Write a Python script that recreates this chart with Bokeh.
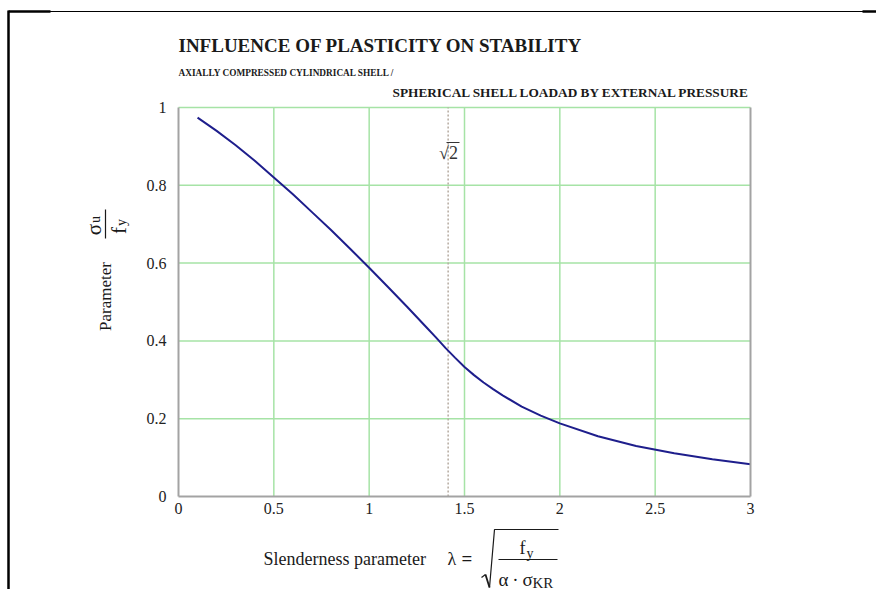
from bokeh.plotting import figure
from bokeh.models import Label, Range1d, FixedTicker, LinearAxis
from bokeh.embed import file_html
from bokeh.resources import INLINE
import math

# ---- data ----
slenderness = [0.1, 0.2, 0.3, 0.4, 0.5, 0.6, 0.7, 0.8, 0.9, 1.0, 1.1, 1.2, 1.3,
               1.35, 1.4, 1.45, 1.5, 1.55, 1.6, 1.65, 1.7, 1.8, 1.9, 2.0, 2.2,
               2.4, 2.6, 2.8, 3.0]
stress_ratio = [0.974, 0.940, 0.903, 0.863, 0.820, 0.777, 0.731, 0.685, 0.637,
                0.588, 0.538, 0.487, 0.435, 0.409, 0.382, 0.357, 0.333, 0.312,
                0.293, 0.276, 0.260, 0.231, 0.208, 0.188, 0.155, 0.130, 0.111,
                0.096, 0.083]
x_ticks = [0, 0.5, 1, 1.5, 2, 2.5, 3]
x_tick_labels = ["0", "0.5", "1", "1.5", "2", "2.5", "3"]
y_ticks = [0, 0.2, 0.4, 0.6, 0.8, 1]
y_tick_labels = ["0", "0.2", "0.4", "0.6", "0.8", "1"]
x_limits = (0, 3)
y_limits = (0, 1)
sqrt2_marker = 1.4142

title_text = "INFLUENCE OF PLASTICITY ON STABILITY"
subtitle_1 = "AXIALLY COMPRESSED CYLINDRICAL SHELL /"
subtitle_2 = "SPHERICAL SHELL LOADAD BY EXTERNAL PRESSURE"

SERIF = "Liberation Serif"
INK = "#1a1a1a"
AXIS_GRAY = "#a3a3a3"
GRID_GREEN = "#a6e3a6"
CURVE = "#1e1e8c"

W, H = 876, 589
# plot area in canvas pixels
FX0, FX1, FY0, FY1 = 178, 750, 107, 496


def X(px):
    return x_limits[0] + (px - FX0) * (x_limits[1] - x_limits[0]) / (FX1 - FX0)


def Y(py):
    return y_limits[0] + (FY1 - py) * (y_limits[1] - y_limits[0]) / (FY1 - FY0)


p = figure(width=W, height=H, output_backend="svg", toolbar_location=None,
           title=None, x_axis_type=None, y_axis_type=None,
           x_range=Range1d(X(0), X(W)), y_range=Range1d(Y(H), Y(0)), min_border=0)
p.background_fill_color = "white"
p.border_fill_color = "white"
p.outline_line_color = None


def style_axis(ax, ticks, labels):
    ax.ticker = FixedTicker(ticks=ticks)
    ax.major_label_overrides = {float(t): l for t, l in zip(ticks, labels)}
    ax.axis_line_color = AXIS_GRAY
    ax.axis_line_width = 2
    ax.major_tick_line_color = None
    ax.minor_tick_line_color = None
    ax.major_label_text_font = SERIF
    ax.major_label_text_font_size = "16px"
    ax.major_label_text_color = "#222222"


# grid lines limited to the plot area
gx = x_ticks[1:-1]
p.segment(x0=gx, y0=[y_limits[0]] * len(gx), x1=gx, y1=[y_limits[1]] * len(gx),
          line_color=GRID_GREEN, line_width=1.5)
gy = y_ticks[1:]
p.segment(x0=[x_limits[0]] * len(gy), y0=gy, x1=[x_limits[1]] * len(gy), y1=gy,
          line_color=GRID_GREEN, line_width=1.5)

# sqrt(2) marker
p.segment(x0=[sqrt2_marker], y0=[y_limits[0]], x1=[sqrt2_marker], y1=[y_limits[1]],
          line_color="#b5aaa0", line_dash="2 2", line_width=1.5)

xax = LinearAxis(fixed_location=0, bounds=x_limits)
style_axis(xax, x_ticks, x_tick_labels)
xax.major_label_standoff = 0
p.add_layout(xax, "below")

yax = LinearAxis(fixed_location=0, bounds=y_limits)
style_axis(yax, y_ticks, y_tick_labels)
yax.major_label_standoff = 6
p.add_layout(yax, "left")

rax = LinearAxis(fixed_location=3, bounds=y_limits, ticker=FixedTicker(ticks=[]),
                 axis_line_color=AXIS_GRAY, axis_line_width=2,
                 major_tick_line_color=None, minor_tick_line_color=None,
                 major_label_text_font_size="0px")
p.add_layout(rax, "right")

p.line(slenderness, stress_ratio, line_color=CURVE, line_width=2)


def lab(text, px, py, size, bold=False, align="left", angle=0.0, color=INK):
    # py is the vertical middle of the text
    p.add_layout(Label(x=X(px), y=Y(py), text=text, text_font=SERIF,
                       text_font_size=f"{size}px", text_font_style="bold" if bold else "normal",
                       text_align=align, text_baseline="middle", angle=angle,
                       text_color=color))


def seg(pts, color=INK, width=1.2):
    p.line([X(a) for a, b in pts], [Y(b) for a, b in pts], line_color=color, line_width=width)


# titles
lab(title_text, 178, 44.5, 19, bold=True)
lab(subtitle_1, 178, 72.5, 9.3, bold=True)
lab(subtitle_2, 750, 91.5, 13.3, bold=True, align="right")

# sqrt(2) label
lab("√2", 448, 152, 18, align="center", color="#333333")
seg([(446, 142), (459, 142)], color="#333333", width=1)

# y axis label (rotated)
lab("Parameter", 105, 296, 17, align="center", angle=math.pi / 2)
lab("σ", 93, 229, 21, align="center", angle=math.pi / 2)
lab("u", 95, 219, 14, align="center", angle=math.pi / 2)
seg([(105, 238), (105, 209)], width=1.2)
lab("f", 118, 230, 21, align="center", angle=math.pi / 2)
lab("y", 121, 222, 14, align="center", angle=math.pi / 2)

# x axis label with formula
lab("Slenderness parameter", 263, 558, 18)
lab("λ", 447, 558, 18)
lab("=", 461, 558, 19, bold=True)
seg([(481, 577), (485, 574)], width=1.2)
seg([(485, 574), (489, 587)], width=1.8)
seg([(489, 587), (494, 529), (558, 529)], width=1.2)
lab("f", 519, 547, 18)
lab("y", 526, 553, 14)
seg([(498, 559), (557, 559)], width=1.2)
lab("α\u2009·\u2009σ", 498, 579, 19)
lab("KR", 532, 582, 15)

# page border lines
seg([(8, 10), (8, H)], color="black", width=2.5)
seg([(8, 11), (W, 11)], color="black", width=1)
seg([(8, 11), (50, 11)], color="black", width=2.5)
seg([(862, 11), (W, 11)], color="black", width=2.5)

open("out.html", "w").write(file_html(p, INLINE))
